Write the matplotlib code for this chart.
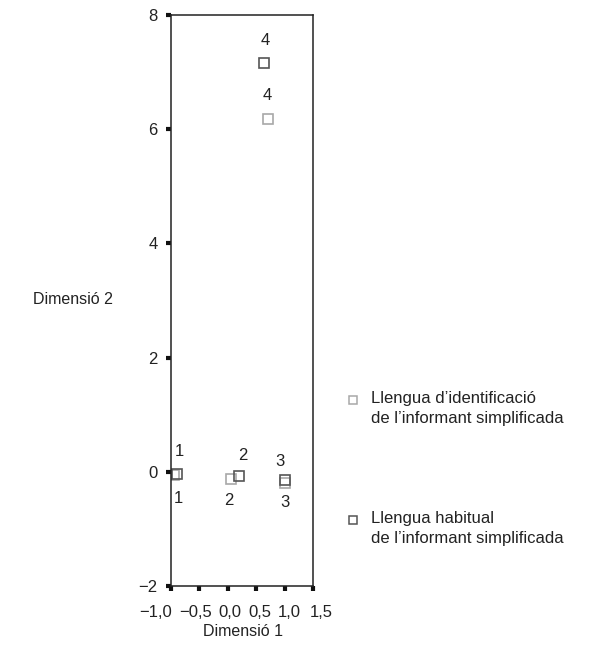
import matplotlib.pyplot as plt
from matplotlib.lines import Line2D
from matplotlib.transforms import ScaledTranslation

plt.rcParams['font.family'] = ['Liberation Sans', 'DejaVu Sans']

# category labels (1-4) and coordinates for the two variables
categories = ["1", "2", "3", "4"]
ident_x = [-0.94, 0.06, 1.00, 0.70]
ident_y = [-0.05, -0.12, -0.19, 6.18]
habit_x = [-0.90, 0.19, 1.00, 0.63]
habit_y = [-0.03, -0.08, -0.14, 7.16]

x_ticks = [-1.0, -0.5, 0.0, 0.5, 1.0, 1.5]
y_ticks = [-2, 0, 2, 4, 6, 8]

legend_labels = ["Llengua d\u2019identificaci\u00f3\nde l\u2019informant simplificada",
                 "Llengua habitual\nde l\u2019informant simplificada"]

light = "#a8a8a8"
dark = "#555555"
text_col = "#222222"
fs = 12

# label offsets in points (dx, dy) for each category
ident_off = [(3, -17), (-2, -16), (0, -14), (0, 17)]
habit_off = [(2, 16), (3, 15), (-3, 13), (1, 16)]
# the x tick labels are spread wider than the ticks themselves (pixels)
xlab_shift = [-15, -4, 2, 4, 5, 8]

fig = plt.figure(figsize=(5.94, 6.62), dpi=100)
ax = fig.add_axes([0.2879, 0.1148, 0.2390, 0.8625])

ax.plot(ident_x, ident_y, linestyle="none", marker="s", markersize=7,
        markerfacecolor="white", markeredgecolor=light, markeredgewidth=1.2)
ax.plot(habit_x, habit_y, linestyle="none", marker="s", markersize=7,
        markerfacecolor="none", markeredgecolor=dark, markeredgewidth=1.2)

for lab, x, y, off in zip(categories, ident_x, ident_y, ident_off):
    ax.annotate(lab, (x, y), xytext=off, textcoords="offset points",
                ha="center", va="center", fontsize=fs, color=text_col)
for lab, x, y, off in zip(categories, habit_x, habit_y, habit_off):
    ax.annotate(lab, (x, y), xytext=off, textcoords="offset points",
                ha="center", va="center", fontsize=fs, color=text_col)

ax.set_xlim(-1.0, 1.5)
ax.set_ylim(-2, 8)
ax.set_xticks(x_ticks)
ax.set_xticklabels([f"{t:.1f}".replace(".", ",").replace("-", "\u2212") for t in x_ticks])
ax.set_yticks(y_ticks)
ax.set_yticklabels([str(t).replace("-", "\u2212") for t in y_ticks])
ax.tick_params(direction="out", length=3.5, width=3, color="#111111",
               labelsize=fs, labelcolor=text_col)
ax.tick_params(axis="y", pad=6)
ax.tick_params(axis="x", pad=10)
for lbl, dx in zip(ax.get_xticklabels(), xlab_shift):
    lbl.set_transform(lbl.get_transform() + ScaledTranslation(dx / 100, 0, fig.dpi_scale_trans))
for sp in ax.spines.values():
    sp.set_color("#222222")
    sp.set_linewidth(1.1)

fig.text(243 / 594, 1 - 631 / 662, "Dimensi\u00f3 1", ha="center", va="center",
         fontsize=11.5, color=text_col)
fig.text(73 / 594, 1 - 300 / 662, "Dimensi\u00f3 2", ha="center", va="center",
         fontsize=11.5, color=text_col)

# legend drawn by hand so the marker sits beside the first text line
for i, (lab, col) in enumerate(zip(legend_labels, [light, dark])):
    y0 = 1 - (400 + i * 120) / 662
    fig.add_artist(Line2D([353 / 594], [y0], transform=fig.transFigure,
                          marker="s", markersize=6, linestyle="none",
                          markerfacecolor="white", markeredgecolor=col,
                          markeredgewidth=1.1))
    fig.text(371 / 594, y0 + 0.0135, lab, ha="left", va="top",
             fontsize=fs, color=text_col, linespacing=1.4)

fig.savefig("out.png", dpi=100)
